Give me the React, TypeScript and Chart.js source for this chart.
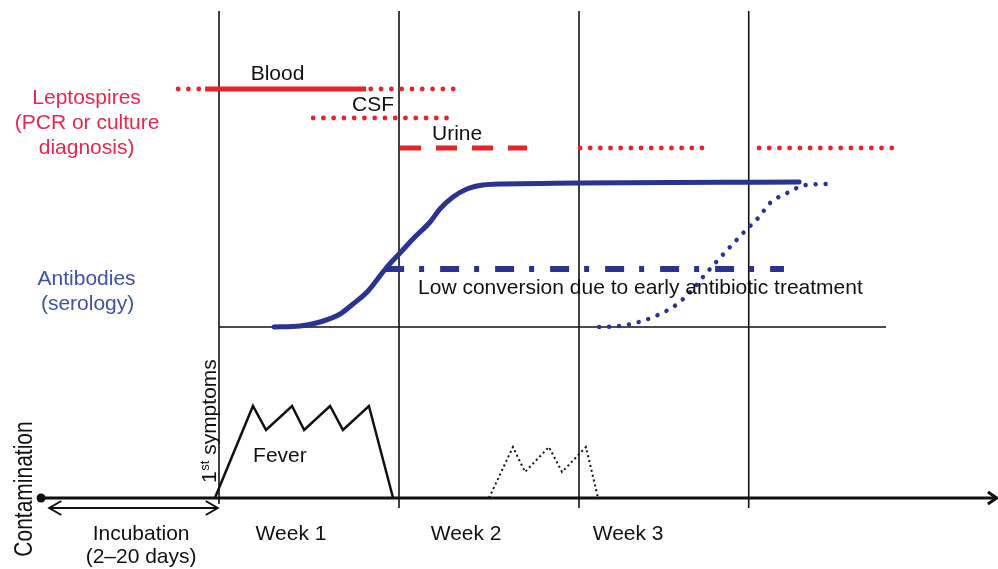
import React, { useEffect, useRef } from "react";
import { Chart, registerables } from "chart.js";

Chart.register(...registerables);

// x: days after first symptoms; y: diagram level (0 = time axis)
const weekBoundaries = [0, 7, 14, 20.6];
const weekLineTop = 48.7;
const weekLineBottom = [-0.6, -1.0, -1.0, -1.0];
const timeAxis = [[-6.92, 0], [30.25, 0]];
const incubation = [[-6.6, -1.0], [-0.05, -1.0]];
const antibodyBaseline = [[0, 17.1], [25.94, 17.1]];
const bloodDottedBefore = [[-1.59, 40.9], [-0.6, 40.9]];
const bloodSolid = [[-0.54, 40.9], [5.72, 40.9]];
const bloodDottedAfter = [[5.9, 40.9], [9.45, 40.9]];
const csfDotted = [[3.66, 38.0], [8.87, 38.0]];
const urineDashed = [[7.04, 35.0], [11.98, 35.0]];
const urineDottedWeek3 = [[14.04, 35.0], [19.17, 35.0]];
const urineDottedLate = [[21.0, 35.0], [26.17, 35.0]];
const antibodyCurve = [
  [2.14, 17.1], [3.15, 17.2], [3.93, 17.6], [4.71, 18.4], [5.21, 19.4],
  [5.76, 20.6], [6.14, 21.8], [6.53, 23.1], [7.04, 24.5], [7.54, 25.9],
  [8.21, 27.6], [8.59, 28.9], [9.1, 30.1], [9.64, 30.9], [10.27, 31.3],
  [10.93, 31.4], [22.56, 31.6],
];
const lateAntibodyCurve = [
  [14.78, 17.1], [15.56, 17.2], [16.33, 17.6], [17.07, 18.3], [17.77, 19.3],
  [18.36, 20.7], [18.82, 22.1], [19.37, 23.7], [19.91, 25.2], [20.46, 26.7],
  [21.0, 28.1], [21.43, 29.5], [22.09, 30.5], [22.83, 31.3], [23.61, 31.4],
];
const lowConversion = [[6.46, 22.9], [21.97, 22.9]];
const fever = [
  [-0.16, 0], [1.32, 9.2], [1.83, 6.8], [2.84, 9.2], [3.31, 6.8],
  [4.32, 9.2], [4.82, 6.8], [5.83, 9.2], [6.77, 0],
];
const relapseFever = [
  [10.5, 0], [11.43, 5.1], [11.9, 2.6], [12.83, 5.1], [13.34, 2.6],
  [14.27, 5.1], [14.74, 0],
];

const RED_TEXT = "#e8264f";
const RED = "#e5232a";
const BLUE_TEXT = "#3d52a8";
const BLUE = "#2b3391";
const BLACK = "#111111";
const FONT = "21px 'Liberation Sans', Arial, sans-serif";

type Label = { text: string; x: number; y: number; color: string; align: CanvasTextAlign };
const labels: Label[] = [
  { text: "Blood", x: 2.275, y: 41.8, color: BLACK, align: "center" },
  { text: "CSF", x: 5.99, y: 38.7, color: BLACK, align: "center" },
  { text: "Urine", x: 9.26, y: 35.8, color: BLACK, align: "center" },
  { text: "Leptospires", x: -5.15, y: 39.4, color: RED_TEXT, align: "center" },
  { text: "(PCR or culture", x: -5.13, y: 36.9, color: RED_TEXT, align: "center" },
  { text: "diagnosis)", x: -5.15, y: 34.4, color: RED_TEXT, align: "center" },
  { text: "Antibodies", x: -5.15, y: 21.3, color: BLUE_TEXT, align: "center" },
  { text: "(serology)", x: -5.11, y: 18.8, color: BLUE_TEXT, align: "center" },
  { text: "Low conversion due to early antibiotic treatment", x: 7.74, y: 20.4, color: BLACK, align: "left" },
  { text: "Fever", x: 2.37, y: 3.6, color: BLACK, align: "center" },
  { text: "Week 1", x: 2.8, y: -4.2, color: BLACK, align: "center" },
  { text: "Week 2", x: 9.61, y: -4.2, color: BLACK, align: "center" },
  { text: "Week 3", x: 15.91, y: -4.2, color: BLACK, align: "center" },
  { text: "Incubation", x: -3.03, y: -4.2, color: BLACK, align: "center" },
  { text: "(2\u201320 days)", x: -3.03, y: -6.5, color: BLACK, align: "center" },
];
const contaminationLabel = { text: "Contamination", x: -7.27, y: 0.9 };
const symptomsLabel = { main: "1", sup: "st", rest: " symptoms", x: -0.1, y: 1.5 };

const toPts = (a: number[][]) => a.map(([x, y]) => ({ x, y }));

const line = (data: number[][], color: string, width: number, extra: any = {}) => ({
  data: toPts(data),
  showLine: true,
  borderColor: color,
  backgroundColor: color,
  borderWidth: width,
  pointRadius: 0,
  borderCapStyle: "butt",
  clip: false,
  ...extra,
});

const dotted = (data: number[][], color: string, width: number, gap: number, extra: any = {}) =>
  line(data, color, width, { borderDash: [0.01, gap], borderCapStyle: "round", ...extra });

const annotate = {
  id: "annotate",
  afterDatasetsDraw(chart: any) {
    const { ctx } = chart;
    const xs = chart.scales.x;
    const ys = chart.scales.y;
    const px = (v: number) => xs.getPixelForValue(v);
    const py = (v: number) => ys.getPixelForValue(v);
    ctx.save();
    // arrowheads
    const chevron = (tx: number, ty: number, dir: number, len: number, half: number, w: number) => {
      ctx.beginPath();
      ctx.strokeStyle = BLACK;
      ctx.lineWidth = w;
      ctx.lineCap = "butt";
      ctx.lineJoin = "miter";
      ctx.moveTo(tx - dir * len, ty - half);
      ctx.lineTo(tx, ty);
      ctx.lineTo(tx - dir * len, ty + half);
      ctx.stroke();
    };
    const axEnd = timeAxis[timeAxis.length - 1];
    chevron(px(axEnd[0]), py(axEnd[1]), 1, 9, 6, 3);
    chevron(px(incubation[0][0]), py(incubation[0][1]), -1, 12, 7, 2);
    chevron(px(incubation[1][0]), py(incubation[1][1]), 1, 12, 7, 2);

    ctx.font = FONT;
    ctx.textBaseline = "alphabetic";
    for (const l of labels) {
      ctx.fillStyle = l.color;
      ctx.textAlign = l.align;
      ctx.fillText(l.text, px(l.x), py(l.y));
    }
    // Contamination (rotated, glyphs slightly stretched as in the figure)
    ctx.fillStyle = BLACK;
    ctx.save();
    ctx.translate(px(contaminationLabel.x), py(contaminationLabel.y));
    ctx.rotate(-Math.PI / 2);
    ctx.scale(1, 1.22);
    ctx.textAlign = "center";
    ctx.fillText(contaminationLabel.text, 0, 0);
    ctx.restore();
    // 1st symptoms (rotated with superscript)
    ctx.save();
    ctx.translate(px(symptomsLabel.x), py(symptomsLabel.y));
    ctx.rotate(-Math.PI / 2);
    ctx.textAlign = "left";
    ctx.font = FONT;
    ctx.fillText(symptomsLabel.main, 0, 0);
    const w1 = ctx.measureText(symptomsLabel.main).width;
    ctx.font = "13px 'Liberation Sans', Arial, sans-serif";
    ctx.fillText(symptomsLabel.sup, w1 + 0.5, -7);
    const w2 = ctx.measureText(symptomsLabel.sup).width;
    ctx.font = FONT;
    ctx.fillText(symptomsLabel.rest, w1 + w2 + 0.5, 0);
    ctx.restore();
    ctx.restore();
  },
};

export default function App() {
  const ref = useRef<HTMLCanvasElement | null>(null);
  useEffect(() => {
    if (!ref.current) return;
    const weekLines = weekBoundaries.map((d, i) =>
      line([[d, weekLineBottom[i]], [d, weekLineTop]], BLACK, 1.6)
    );
    const chart = new Chart(ref.current, {
      type: "scatter",
      data: {
        datasets: [
          line(bloodSolid, RED, 5),
          dotted(bloodDottedBefore, RED, 4.8, 10.3),
          dotted(bloodDottedAfter, RED, 4.8, 10.3),
          dotted(csfDotted, RED, 4.8, 10.25),
          line(urineDashed, RED, 5, { borderDash: [21, 15] }),
          dotted(urineDottedWeek3, RED, 4.8, 10.15),
          dotted(urineDottedLate, RED, 4.8, 10.2),
          line(antibodyCurve, BLUE, 5, { cubicInterpolationMode: "monotone", borderCapStyle: "round" }),
          dotted(lateAntibodyCurve, BLUE, 4.5, 10, { cubicInterpolationMode: "monotone" }),
          line(lowConversion, BLUE, 6, { borderDash: [19, 15, 5, 16] }),
          line(fever, BLACK, 2.5, { borderJoinStyle: "miter" }),
          line(relapseFever, BLACK, 2, { borderDash: [2, 3] }),
          line(timeAxis, BLACK, 3),
          {
            data: toPts([timeAxis[0]]),
            showLine: false,
            pointRadius: 4.5,
            pointBackgroundColor: BLACK,
            pointBorderWidth: 0,
            clip: false,
          },
          line(incubation, BLACK, 2),
          line(antibodyBaseline, BLACK, 1.6),
          ...weekLines,
        ] as any,
      },
      options: {
        responsive: false,
        animation: false,
        events: [],
        layout: { padding: 0, autoPadding: false },
        plugins: { legend: { display: false }, tooltip: { enabled: false } },
        scales: {
          x: { type: "linear", min: -8.5167, max: 30.294, display: false },
          y: { type: "linear", min: -7.1, max: 49.8, display: false },
        },
      },
      plugins: [annotate],
    });
    return () => chart.destroy();
  }, []);
  return (
    <div style={{ position: "fixed", left: 0, top: 0, width: 998, height: 569, background: "#fff" }}>
      <canvas ref={ref} width={998} height={569} style={{ width: 998, height: 569, display: "block" }} />
    </div>
  );
}
